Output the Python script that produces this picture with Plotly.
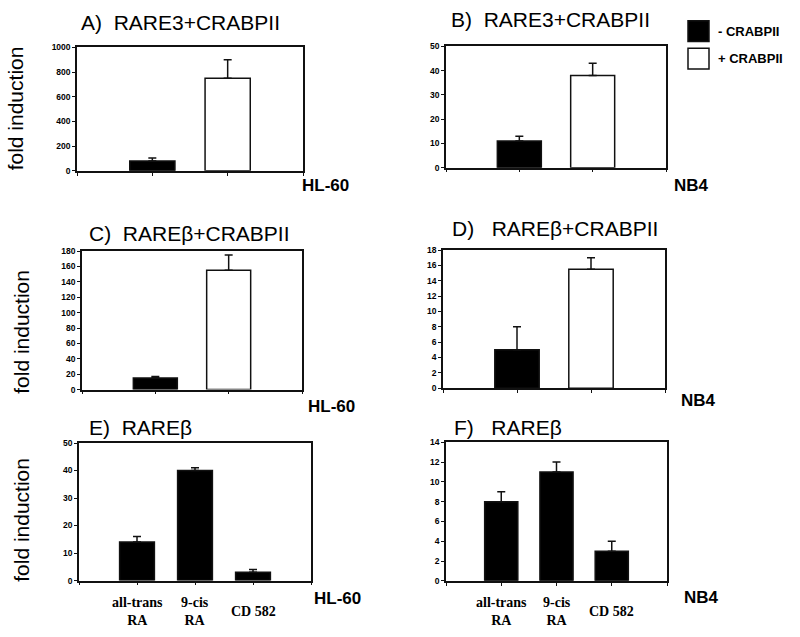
import plotly.graph_objects as go

W, H = 800, 637

# ---------------- data ----------------
crabp_groups = ["- CRABPII", "+ CRABPII"]
crabp_colors = ["black", "white"]

a_vals = [80, 750]
a_err = [25, 150]
b_vals = [11, 38]
b_err = [2, 5]
c_vals = [15, 155]
c_err = [2, 20]
d_vals = [5, 15.5]
d_err = [3, 1.5]

ligands = ["all-trans<br>RA", "9-cis<br>RA", "CD 582"]
e_vals = [14, 40, 3]
e_err = [2, 1, 1]
f_vals = [8, 11, 3]
f_err = [1, 1, 1]

panel_titles = ["A)\u00a0\u00a0RARE3+CRABPII", "B)\u00a0\u00a0RARE3+CRABPII",
                "C)\u00a0\u00a0RAREβ+CRABPII", "D)\u00a0\u00a0\u00a0RAREβ+CRABPII",
                "E)\u00a0\u00a0RAREβ", "F)\u00a0\u00a0\u00a0RAREβ"]
cell_lines = ["HL-60", "NB4", "HL-60", "NB4", "HL-60", "NB4"]
y_maxes = [1000, 50, 180, 18, 50, 14]
y_dticks = [200, 10, 20, 2, 10, 2]
y_title = "fold induction"

# ---------------- layout geometry (pixels) ----------------
# (left, right, top, bottom)
boxes = [
    (77, 303, 43, 168.5),
    (446, 666, 42, 165.3),
    (82, 302, 250, 390.7),
    (443, 665, 249, 389.3),
    (79, 311, 445, 584.7),
    (446, 667, 444.3, 585),
]
title_pos = [(79, 18), (449, 15), (87, 232), (450, 227), (87, 429), (452, 429)]
cell_pos = [(300, 183), (672, 183), (306, 408), (679, 402), (312, 603), (682, 602)]
ylab_pos = [(15, 105), None, (22, 332), None, (22, 523), None]


def px(x):
    return x / W


def py(y):
    return 1 - y / H


fig = go.Figure()

panel_data = [
    (a_vals, a_err, crabp_colors), (b_vals, b_err, crabp_colors),
    (c_vals, c_err, crabp_colors), (d_vals, d_err, crabp_colors),
    (e_vals, e_err, ["black"] * 3), (f_vals, f_err, ["black"] * 3),
]

annotations = []
line_col = "#111111"
for i, ((vals, errs, cols), box) in enumerate(zip(panel_data, boxes)):
    n = i + 1
    suf = "" if n == 1 else str(n)
    xs = list(range(1, len(vals) + 1))
    fig.add_trace(go.Bar(
        x=xs, y=vals, width=0.6,
        marker=dict(color=cols, line=dict(color=line_col, width=1.5)),
        error_y=dict(type="data", array=errs, arrayminus=[0] * len(errs),
                     symmetric=False, color=line_col, thickness=1.5, width=4),
        xaxis="x" + suf, yaxis="y" + suf, showlegend=False,
    ))
    l, r, t, b = box
    nslots = len(vals) + 1
    fig.layout["xaxis" + suf] = dict(
        domain=[px(l), px(r)], anchor="y" + suf, range=[0, nslots],
        tickvals=list(range(0, nslots + 1)), showticklabels=False,
        ticks="outside", ticklen=3, tickwidth=1, tickcolor=line_col,
        showline=True, linecolor=line_col, linewidth=1.5, mirror=True,
        showgrid=False, zeroline=False, fixedrange=True,
    )
    fig.layout["yaxis" + suf] = dict(
        domain=[py(b), py(t)], anchor="x" + suf, range=[0, y_maxes[i]],
        dtick=y_dticks[i], tick0=0,
        ticks="outside", ticklen=3, tickwidth=1, tickcolor=line_col,
        tickfont=dict(family="Liberation Sans", size=8.5, color="black", weight="bold"),
        showline=True, linecolor=line_col, linewidth=1.5, mirror=True,
        showgrid=False, zeroline=False, fixedrange=True,
    )
    # panel title
    tx, ty = title_pos[i]
    annotations.append(dict(text=panel_titles[i], x=px(tx), y=py(ty), xref="paper", yref="paper",
                            xanchor="left", yanchor="middle", showarrow=False,
                            font=dict(family="Liberation Sans", size=21, color="black")))
    # cell line label
    cx, cy = cell_pos[i]
    annotations.append(dict(text="<b>%s</b>" % cell_lines[i], x=px(cx), y=py(cy), xref="paper",
                            yref="paper", xanchor="left", yanchor="middle", showarrow=False,
                            font=dict(family="Liberation Sans", size=17, color="black")))
    # y axis title
    if ylab_pos[i] is not None:
        yx, yy = ylab_pos[i]
        annotations.append(dict(text=y_title, x=px(yx), y=py(yy), xref="paper", yref="paper",
                                xanchor="center", yanchor="middle", textangle=-90, showarrow=False,
                                font=dict(family="Liberation Sans", size=21, color="black")))
    # ligand category labels
    if len(vals) == 3:
        for k, lab in enumerate(ligands):
            annotations.append(dict(text="<b>%s</b>" % lab, x=xs[k], y=py(616), xref="x" + suf,
                                    yref="paper", xanchor="center", yanchor="middle",
                                    showarrow=False,
                                    font=dict(family="Liberation Serif", size=14, color="black")))

# legend (swatches + text)
shapes = []
legend_rows = [(16, 37), (44, 65)]
for k, (g, col) in enumerate(zip(crabp_groups, crabp_colors)):
    y0, y1 = legend_rows[k]
    shapes.append(dict(type="rect", xref="paper", yref="paper", x0=px(688), x1=px(709),
                       y0=py(y1), y1=py(y0), fillcolor=col,
                       line=dict(color=line_col, width=1.5)))
    annotations.append(dict(text="<b>%s</b>" % g, x=px(716), y=py((y0 + y1) / 2), xref="paper",
                            yref="paper", xanchor="left", yanchor="middle", showarrow=False,
                            font=dict(family="Liberation Sans", size=13, color="black")))

fig.update_layout(
    width=W, height=H, margin=dict(l=0, r=0, t=0, b=0),
    paper_bgcolor="white", plot_bgcolor="white",
    annotations=annotations, shapes=shapes, showlegend=False,
)

fig.write_html("out.html", config={"displayModeBar": False},
               post_script="document.body.style.margin='0';document.body.style.padding='0';")
